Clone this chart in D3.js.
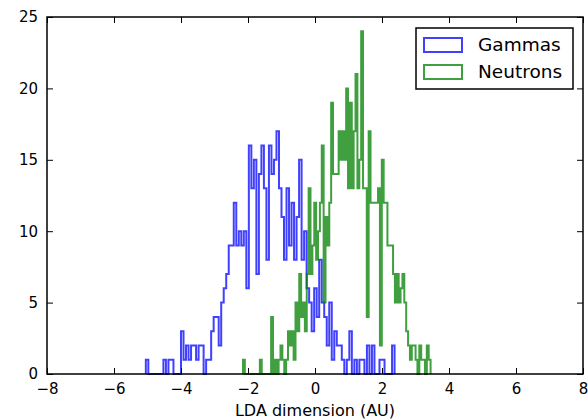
<!DOCTYPE html>
<html>
<head>
<meta charset="utf-8">
<script src="https://cdn.jsdelivr.net/npm/d3@7"></script>
<style>
  html, body { margin: 0; padding: 0; background: #fff; }
  svg { display: block; font-family: "DejaVu Sans", sans-serif; }
</style>
</head>
<body>
<svg id="chart" width="588" height="420"></svg>
<script>
// Histogram of LDA projections: gamma and neutron events, drawn as step outlines.

// Gamma histogram: first bin edge, bin width, counts per bin
const gammaStart = -5.05;
const gammaWidth = 0.075;
const gammaCounts = [
  1, 0, 0, 0, 0, 0, 0, 1, 0, 1,
  1, 0, 0, 0, 3, 1, 2, 1, 2, 2,
  1, 2, 2, 0, 1, 1, 3, 4, 4, 2,
  5, 6, 7, 9, 9, 12, 9, 10, 9, 10,
  6, 16, 13, 15, 7, 14, 16, 13, 8, 16,
  14, 15, 17, 13, 11, 8, 13, 9, 12, 8,
  11, 15, 8, 10, 6, 5, 3, 6, 4, 8,
  5, 4, 2, 5, 1, 3, 2, 2, 1, 0,
  1, 3, 0, 1, 0, 1, 1, 0, 2, 0,
  2, 0, 0, 1, 1, 0, 0, 0, 2
];

// Neutron histogram: first bin edge, bin width, counts per bin
const neutronStart = -2.15;
const neutronWidth = 0.056;
const neutronCounts = [
  1, 0, 0, 0, 0, 0, 0, 0, 0, 1,
  0, 0, 0, 0, 0, 4, 0, 1, 0, 1,
  2, 1, 0, 1, 3, 2, 3, 1, 5, 3,
  7, 4, 5, 3, 7, 13, 7, 9, 12, 8,
  10, 12, 16, 5, 11, 9, 12, 19, 14, 14,
  14, 17, 15, 17, 15, 20, 13, 19, 13, 17,
  21, 13, 15, 24, 13, 13, 4, 17, 12, 12,
  12, 12, 13, 2, 15, 12, 12, 9, 9, 9,
  7, 5, 7, 5, 6, 7, 5, 3, 2, 1,
  2, 2, 1, 0, 2, 1, 1, 0, 2, 1
];

// Axis ticks
const xTicks = [-8, -6, -4, -2, 0, 2, 4, 6, 8];
const yTicks = [0, 5, 10, 15, 20, 25];

const seriesNames = ["Gammas", "Neutrons"];
const seriesColors = ["#0000ff", "#008000"];

const svg = d3.select("#chart");
const plotLeft = 47, plotRight = 583, plotTop = 17, plotBottom = 374;

const x = d3.scaleLinear().domain([-8, 8]).range([plotLeft, plotRight]);
const y = d3.scaleLinear().domain([0, 25]).range([plotBottom, plotTop]);

// Outline points of a step histogram: rise at the first edge, fall at the last
function stepPoints(start, width, counts) {
  const pts = [[start, 0]];
  counts.forEach((c, i) => {
    pts.push([start + i * width, c]);
    pts.push([start + (i + 1) * width, c]);
  });
  pts.push([start + counts.length * width, 0]);
  return pts;
}

const line = d3.line().x(d => x(d[0])).y(d => y(d[1]));

const hists = [
  stepPoints(gammaStart, gammaWidth, gammaCounts),
  stepPoints(neutronStart, neutronWidth, neutronCounts)
];

const plot = svg.append("g");
hists.forEach((pts, k) => {
  plot.append("path")
    .attr("d", line(pts))
    .attr("fill", "none")
    .attr("stroke", seriesColors[k])
    .attr("stroke-opacity", 0.75)
    .attr("stroke-width", 2)
    .attr("stroke-linejoin", "miter");
});

// Axes with inward ticks on all four sides
const tickLen = 6;
const fontSize = "15px";

const gx = svg.append("g").attr("transform", `translate(0,${plotBottom})`)
  .call(d3.axisBottom(x).tickValues(xTicks).tickSizeInner(-tickLen).tickSizeOuter(0).tickPadding(9));
const gxTop = svg.append("g").attr("transform", `translate(0,${plotTop})`)
  .call(d3.axisTop(x).tickValues(xTicks).tickSizeInner(-tickLen).tickSizeOuter(0).tickFormat(""));
const gy = svg.append("g").attr("transform", `translate(${plotLeft},0)`)
  .call(d3.axisLeft(y).tickValues(yTicks).tickSizeInner(-tickLen).tickSizeOuter(0).tickPadding(9));
const gyRight = svg.append("g").attr("transform", `translate(${plotRight},0)`)
  .call(d3.axisRight(y).tickValues(yTicks).tickSizeInner(-tickLen).tickSizeOuter(0).tickFormat(""));

[gx, gxTop, gy, gyRight].forEach(g => {
  g.select(".domain").remove();
  g.selectAll(".tick line").attr("stroke", "#000").attr("stroke-width", 1);
  g.selectAll(".tick text").attr("fill", "#000").style("font-size", fontSize)
    .style("font-family", "'DejaVu Sans', sans-serif");
});

// Frame
svg.append("rect")
  .attr("x", plotLeft).attr("y", plotTop)
  .attr("width", plotRight - plotLeft).attr("height", plotBottom - plotTop)
  .attr("fill", "none").attr("stroke", "#000").attr("stroke-width", 1.5);

// X axis title
svg.append("text")
  .attr("x", (plotLeft + plotRight) / 2).attr("y", 416)
  .attr("text-anchor", "middle")
  .style("font-size", "16px")
  .attr("fill", "#000")
  .text("LDA dimension (AU)");

// Legend
const legend = svg.append("g").attr("transform", "translate(416,28)");
legend.append("rect")
  .attr("width", 157).attr("height", 61)
  .attr("fill", "#fff").attr("stroke", "#000").attr("stroke-width", 1.5);
seriesNames.forEach((name, k) => {
  const row = legend.append("g").attr("transform", `translate(0,${10 + k * 27})`);
  row.append("rect")
    .attr("x", 8).attr("y", 0).attr("width", 38).attr("height", 14)
    .attr("fill", "none").attr("stroke", seriesColors[k])
    .attr("stroke-opacity", 0.75).attr("stroke-width", 2);
  row.append("text")
    .attr("x", 62).attr("y", 13)
    .style("font-size", "18.5px")
    .attr("fill", "#000")
    .text(name);
});
</script>
</body>
</html>
